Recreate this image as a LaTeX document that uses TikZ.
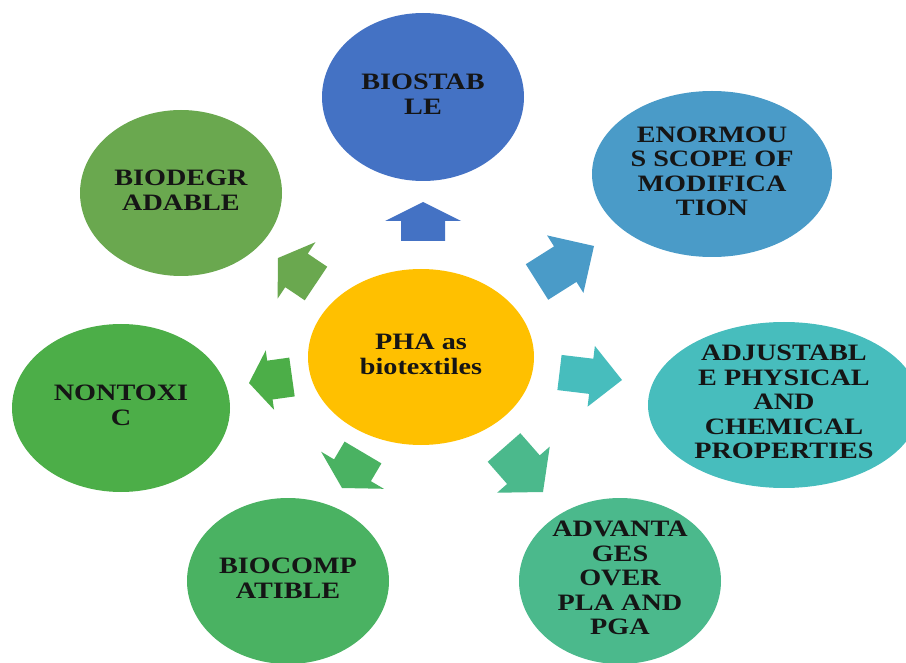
\documentclass[tikz,border=0pt]{standalone}
\usepackage{fontspec}
\setmainfont{Liberation Serif}
\usetikzlibrary{shapes.geometric,calc}

\definecolor{cCore}{HTML}{FFC000}
\definecolor{cStab}{HTML}{4472C4}
\definecolor{cScope}{HTML}{4A9BC8}
\definecolor{cAdj}{HTML}{47BDBD}
\definecolor{cAdv}{HTML}{4BB98C}
\definecolor{cComp}{HTML}{4AB262}
\definecolor{cTox}{HTML}{4CAE48}
\definecolor{cDeg}{HTML}{6AA84F}
\definecolor{ink}{HTML}{151515}

% wide bold label, several centred lines
\newcommand{\lbl}[1]{\scalebox{1.2}[1]{\begin{tabular}{@{}c@{}}#1\end{tabular}}}

% block arrow: #1 colour, #2 tail, #3 tip, #4 shaft half-width, #5 head half-width, #6 head length
\newcommand{\blockarrow}[6]{%
  \path ($(#3)!#6!(#2)$) coordinate (hb);
  \fill[#1] ($(#2)!#4!90:(#3)$) -- ($(hb)!#4!90:(#3)$) -- ($(hb)!#5!90:(#3)$)
    -- (#3) -- ($(hb)!#5!-90:(#3)$) -- ($(hb)!#4!-90:(#3)$) -- ($(#2)!#4!-90:(#3)$) -- cycle;}

\tikzset{
  bub/.style={ellipse, inner sep=0pt, draw=none},
  txt/.style={text=ink, font=\fontsize{23.5}{24.5}\selectfont\bfseries, inner sep=0pt}
}

\begin{document}
\begin{tikzpicture}[x=1pt,y=-1pt]
\useasboundingbox (0,0) rectangle (906,663);
\clip (0,0) rectangle (906,663);

% centre
\node[bub, fill=cCore, minimum width=226pt, minimum height=176pt,
  label={[txt]center:\lbl{PHA as\\biotextiles}}] (core) at (421,357) {};

% surrounding properties
\node[bub, fill=cStab, minimum width=202pt, minimum height=168pt,
  label={[txt]center:\lbl{BIOSTAB\\LE}}] (stab) at (423,97) {};
\node[bub, fill=cScope, minimum width=240pt, minimum height=166pt,
  label={[txt]center:\lbl{ENORMOU\\S SCOPE OF\\MODIFICA\\TION}}] (scope) at (712,174) {};
\node[bub, fill=cAdj, minimum width=272pt, minimum height=166pt,
  label={[txt]center:\lbl{ADJUSTABL\\E PHYSICAL\\AND\\CHEMICAL\\PROPERTIES}}] (adj) at (784,405) {};
\node[bub, fill=cAdv, minimum width=202pt, minimum height=166pt,
  label={[txt]center:\lbl{ADVANTA\\GES\\OVER\\PLA AND\\PGA}}] (adv) at (620,581) {};
\node[bub, fill=cComp, minimum width=202pt, minimum height=166pt,
  label={[txt]center:\lbl{BIOCOMP\\ATIBLE}}] (comp) at (288,581) {};
\node[bub, fill=cTox, minimum width=218pt, minimum height=168pt,
  label={[txt]center:\lbl{NONTOXI\\C}}] (tox) at (121,408) {};
\node[bub, fill=cDeg, minimum width=202pt, minimum height=166pt,
  label={[txt]center:\lbl{BIODEGR\\ADABLE}}] (deg) at (181,193) {};

% arrow tails and tips
\coordinate (t1) at (423,241);   \coordinate (p1) at (423,202);
\coordinate (t2) at (537,282);   \coordinate (p2) at (594,246);
\coordinate (t3) at (559.5,372.5); \coordinate (p3) at (622,380);
\coordinate (t4) at (504,447.5); \coordinate (p4) at (543,492);
\coordinate (t5) at (363,452.5); \coordinate (p5) at (342,488);
\coordinate (t6) at (292,377);   \coordinate (p6) at (249,383);
\coordinate (t7) at (316,283.5); \coordinate (p7) at (278,258);

\blockarrow{cStab}{t1}{p1}{22pt}{38pt}{19pt}
\blockarrow{cScope}{t2}{p2}{21pt}{34pt}{34pt}
\blockarrow{cAdj}{t3}{p3}{17.7pt}{30.6pt}{31pt}
\blockarrow{cAdv}{t4}{p4}{21.7pt}{35pt}{29.7pt}
\blockarrow{cComp}{t5}{p5}{21.4pt}{36.4pt}{20.6pt}
\blockarrow{cTox}{t6}{p6}{19.6pt}{30pt}{21.1pt}
\blockarrow{cDeg}{t7}{p7}{20.2pt}{34pt}{22.3pt}
\end{tikzpicture}
\end{document}
